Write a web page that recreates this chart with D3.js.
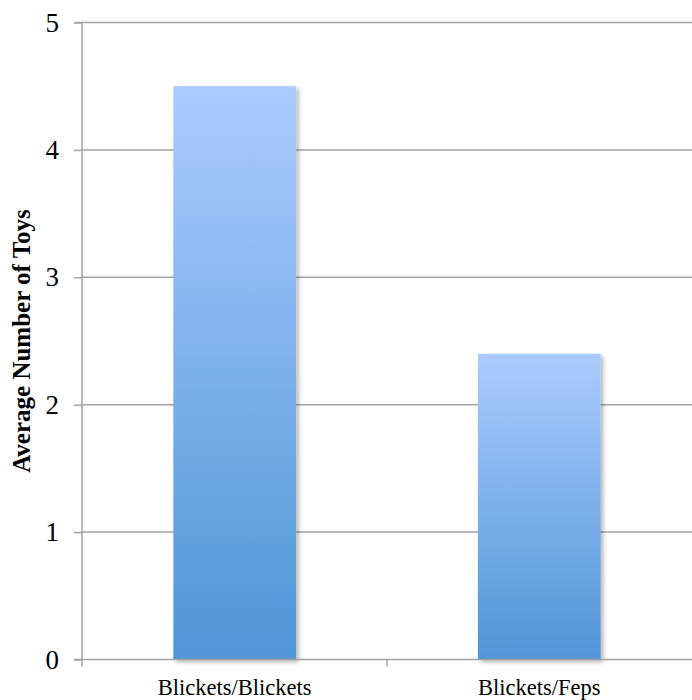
<!DOCTYPE html>
<html>
<head>
<meta charset="utf-8">
<script src="https://cdn.jsdelivr.net/npm/d3@7"></script>
<style>
  html, body { margin: 0; padding: 0; background: #fff; }
  svg { display: block; }
</style>
</head>
<body>
<svg id="chart" width="692" height="700"></svg>
<script>
// Average number of toys chosen per condition
const categories = ["Blickets/Blickets", "Blickets/Feps"];
const values = [4.5, 2.4];
const yTicks = [0, 1, 2, 3, 4, 5];
const yTitle = "Average Number of Toys";

const svg = d3.select("#chart");
const plotLeft = 82, plotRight = 692, plotTop = 22.5, plotBottom = 659.5;
const serif = "'Liberation Serif', 'DejaVu Serif', serif";

const x = d3.scaleBand()
  .domain(categories)
  .range([plotLeft, plotRight])
  .paddingInner(0.597)
  .paddingOuter(0.3);

const y = d3.scaleLinear().domain([0, 5]).range([plotBottom, plotTop]);

const defs = svg.append("defs");
const grad = defs.append("linearGradient")
  .attr("id", "barGrad").attr("x1", 0).attr("y1", 0).attr("x2", 0).attr("y2", 1);
grad.append("stop").attr("offset", "0%").attr("stop-color", "#aacbff");
grad.append("stop").attr("offset", "100%").attr("stop-color", "#4f95d8");

const shadow = defs.append("filter").attr("id", "shadow")
  .attr("x", "-10%").attr("y", "-10%").attr("width", "130%").attr("height", "130%");
shadow.append("feDropShadow")
  .attr("dx", 2.5).attr("dy", 2.5).attr("stdDeviation", 2)
  .attr("flood-color", "#000").attr("flood-opacity", 0.3);

// horizontal gridlines
svg.append("g").selectAll("line")
  .data(yTicks.filter(d => d > 0))
  .join("line")
  .attr("x1", plotLeft).attr("x2", plotRight)
  .attr("y1", d => y(d)).attr("y2", d => y(d))
  .attr("stroke", "#a3a3a3").attr("stroke-width", 1.5);

// bars
svg.append("g").selectAll("rect")
  .data(categories)
  .join("rect")
  .attr("x", d => x(d))
  .attr("y", (d, i) => y(values[i]))
  .attr("width", x.bandwidth())
  .attr("height", (d, i) => y(0) - y(values[i]))
  .attr("fill", "url(#barGrad)")
  .attr("filter", "url(#shadow)");

// y axis
const yAxis = d3.axisLeft(y).tickValues(yTicks).tickSize(8).tickPadding(15).tickFormat(d3.format("d"));
const gy = svg.append("g").attr("transform", `translate(${plotLeft},0)`).call(yAxis);
gy.select(".domain").attr("stroke", "#a3a3a3").attr("stroke-width", 1.5).attr("d", `M-8,${plotTop}H0V${plotBottom}`);
gy.selectAll(".tick line").attr("stroke", "#a3a3a3").attr("stroke-width", 1.5);
gy.selectAll(".tick text")
  .attr("font-family", serif)
  .attr("font-size", 27).attr("fill", "#000");

// x axis
const gx = svg.append("g").attr("transform", `translate(0,${plotBottom})`);
gx.append("line").attr("x1", plotLeft - 8).attr("x2", plotRight)
  .attr("stroke", "#a3a3a3").attr("stroke-width", 1.5);
const boundaries = [plotLeft, (x(categories[0]) + x.bandwidth() + x(categories[1])) / 2];
gx.selectAll(".sep").data(boundaries).join("line").attr("class", "sep")
  .attr("x1", d => d).attr("x2", d => d).attr("y1", 0).attr("y2", 7)
  .attr("stroke", "#a3a3a3").attr("stroke-width", 1.5);
gx.selectAll(".cat").data(categories).join("text").attr("class", "cat")
  .attr("x", d => x(d) + x.bandwidth() / 2)
  .attr("y", 35)
  .attr("text-anchor", "middle")
  .attr("font-family", serif)
  .attr("font-size", 22.5).attr("fill", "#000")
  .text(d => d);

// y title
svg.append("text")
  .attr("transform", `translate(24,${(plotTop + plotBottom) / 2}) rotate(-90)`)
  .attr("text-anchor", "middle")
  .attr("dominant-baseline", "middle")
  .attr("font-family", serif)
  .attr("font-weight", "bold")
  .attr("font-size", 25).attr("fill", "#000")
  .text(yTitle);
</script>
</body>
</html>
